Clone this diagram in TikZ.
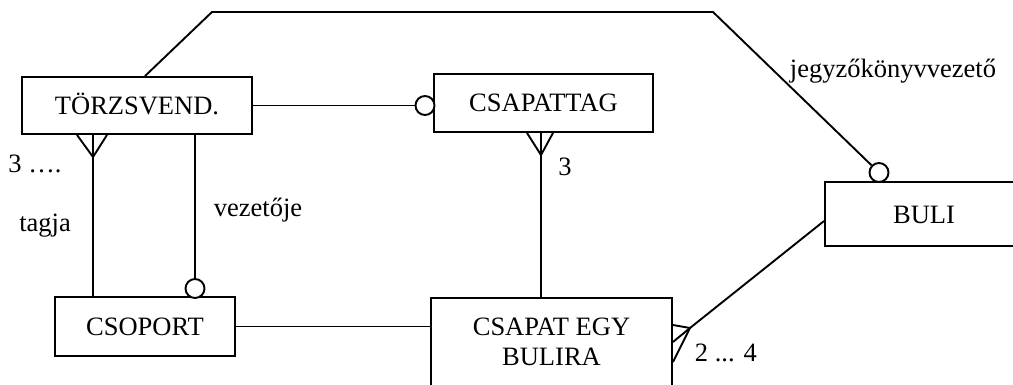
\documentclass[tikz,border=0pt]{standalone}
\usepackage{fontspec}
\setmainfont{Liberation Serif}
\tikzset{every picture/.style={
    line width=1.9pt,
}}
\tikzset{
  entity/.style={draw, rectangle, inner sep=0pt, text height=18pt, text depth=0pt},
  zero/.style={draw, circle, fill=white, minimum size=19pt, inner sep=0pt},
  lbl/.style={anchor=base, inner sep=0pt},
}

\begin{document}
\begin{tikzpicture}[x=1pt, y=-1pt, font=\fontsize{26.5}{30}\selectfont]
    \useasboundingbox (0,0) rectangle (1013,385);
    \clip (0,0) rectangle (1013,385);
    % entities
    \node[entity, minimum width=230pt, minimum height=57pt] (torzs) at (137,105.5) {TÖRZSVEND.};
    \node[entity, minimum width=219pt, minimum height=58pt] (csapattag) at (543.5,103) {CSAPATTAG};
    \node[entity, minimum width=198pt, minimum height=64pt] (buli) at (924,214) {BULI};
    \node[entity, minimum width=180pt, minimum height=59pt] (csoport) at (145,326.5) {CSOPORT};
    \node[draw, rectangle, minimum width=241pt, minimum height=90pt] (csapat) at (551.5,343) {};
    \node[lbl] (csapat1) at (551.5,335) {CSAPAT EGY};
    \node[lbl] (csapat2) at (551.5,365) {BULIRA};
    % optional ends
    \node[zero] (o1) at (425,105.5) {};
    \node[zero] (o2) at (195,288.5) {};
    \node[zero] (o3) at (879,172.5) {};
    % crow's feet tips and bends
    \coordinate (t1) at (93,157);
    \coordinate (t2) at (541,155);
    \coordinate (t3) at (690,328);
    \coordinate (k1) at (212,12);
    \coordinate (k2) at (713,12);
    % relationships
    \draw ([xshift=8pt]torzs.north) -- (k1) -- (k2) -- (o3);
    \draw (torzs.east) -- (o1.west);
    \draw (t1 |- torzs.south) -- (t1 |- csoport.north);
    \draw ([xshift=-16pt]t1 |- torzs.south) -- (t1) -- ([xshift=14pt]t1 |- torzs.south);
    \draw (o2 |- torzs.south) -- (o2.north);
    \draw (t2 |- csapattag.south) -- (t2 |- csapat.north);
    \draw ([xshift=-14pt]t2 |- csapattag.south) -- (t2) -- ([xshift=12pt]t2 |- csapattag.south);
    \draw (csoport.east) -- (csoport.east -| csapat.west);
    \draw ([yshift=-7pt]buli.west) -- (t3);
    \draw ([yshift=18pt]csapat.east) -- (t3) -- ([yshift=-19pt]csapat.east);
    \draw (t3) -- ([yshift=1pt]csapat.east);
    % labels
    \node[lbl] (n1) at (35,173) {3 ….};
    \node[lbl] (n2) at (45,232) {tagja};
    \node[lbl] (n3) at (258,217) {vezetője};
    \node[lbl] (n4) at (565,176) {3};
    \node[lbl] (n5) at (893,78) {jegyzőkönyvvezető};
    \node[lbl, anchor=base west] (n6) at (694,361) {2 ... 4};
\end{tikzpicture}
\end{document}
